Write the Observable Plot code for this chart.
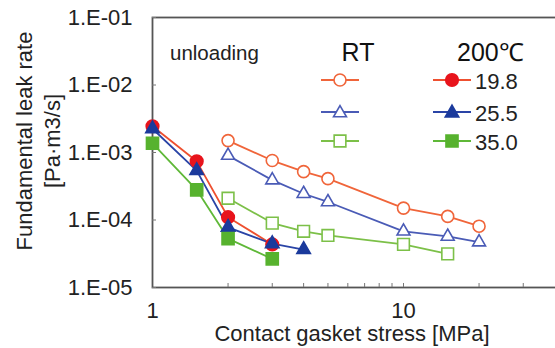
<!DOCTYPE html>
<html>
<head>
<meta charset="utf-8">
<script src="https://cdn.jsdelivr.net/npm/d3@7"></script>
<script src="https://cdn.jsdelivr.net/npm/@observablehq/plot@0.6"></script>
<style>
  html, body { margin: 0; padding: 0; background: #fff; overflow: hidden; }
  #chart { width: 555px; height: 348px; overflow: hidden; }
</style>
</head>
<body>
<div id="chart"></div>
<script>
// ---- data ----
const rtX = [2, 3, 4, 5, 10, 15, 20];
const rtCircle = [1.5e-3, 7.6e-4, 5.2e-4, 4.1e-4, 1.5e-4, 1.13e-4, 8.1e-5];
const rtTriangle = [9.0e-4, 3.9e-4, 2.45e-4, 1.85e-4, 6.8e-5, 5.7e-5, 4.7e-5];
const rtSquareX = [2, 3, 4, 5, 10, 15];
const rtSquare = [2.1e-4, 9.0e-5, 6.8e-5, 5.9e-5, 4.35e-5, 3.15e-5];

const hotX = [1, 1.5, 2, 3];
const hot198 = [2.45e-3, 7.4e-4, 1.1e-4, 4.35e-5];
const hot255X = [1, 1.5, 2, 3, 4];
const hot255 = [2.25e-3, 5.4e-4, 7.8e-5, 4.45e-5, 3.65e-5];
const hot350 = [1.37e-3, 2.8e-4, 5.3e-5, 2.65e-5];

const legendLabels = ["19.8", "25.5", "35.0"];
const yTicks = [1e-1, 1e-2, 1e-3, 1e-4, 1e-5];
const xMinorTicks = [2, 3, 4, 5, 6, 7, 8, 9, 10, 20, 30];
const xLabelTicks = [1, 10];

const xLabel = "Contact gasket stress [MPa]";
const yLabel1 = "Fundamental leak rate";
const yLabel2 = "[Pa\u00b7m3/s]";
const noteText = "unloading";
const headRT = "RT";
const headHot = "200\u2103";

// ---- series definitions ----
const series = [
  {x: rtX, y: rtCircle, symbol: "circle", r: 6, line: "#f0653a", stroke: "#f0653a", fill: "white"},
  {x: rtX, y: rtTriangle, symbol: "triangle", r: 4.8, line: "#4a5bb6", stroke: "#4a5bb6", fill: "white"},
  {x: rtSquareX, y: rtSquare, symbol: "square", r: 6.6, line: "#7cc048", stroke: "#7cc048", fill: "white"},
  {x: hotX, y: hot198, symbol: "circle", r: 6.3, line: "#ee5030", stroke: "#e8141c", fill: "#e8141c"},
  {x: hot255X, y: hot255, symbol: "triangle", r: 5, line: "#2a44a6", stroke: "#1b3a9c", fill: "#1b3a9c"},
  {x: hotX, y: hot350, symbol: "square", r: 6.8, line: "#5fb838", stroke: "#57b22e", fill: "#57b22e"}
];

const marks = [];
const W = 558, H = 348;
marks.push(Plot.frame({stroke: "#555", strokeWidth: 1.8}));
// inner ticks
marks.push(Plot.axisY({ticks: yTicks, tickSize: 4, dx: 4, text: null, label: null, stroke: "#777", strokeWidth: 1}));
marks.push(Plot.axisX({ticks: xMinorTicks, tickSize: 4, dy: -4, text: null, label: null, stroke: "#777", strokeWidth: 1}));
// labels
marks.push(Plot.axisY({ticks: yTicks, tickSize: 0, tickPadding: 20,
  tickFormat: d => "1.E-" + String(Math.round(-Math.log10(d))).padStart(2, "0"),
  fill: "#222", label: null}));
marks.push(Plot.axisX({ticks: xLabelTicks, tickSize: 0, tickPadding: 15, tickFormat: d => String(d), fill: "#222", label: null}));

for (const s of series) {
  const data = s.x.map((x, i) => ({x, y: s.y[i]}));
  marks.push(Plot.line(data, {x: "x", y: "y", stroke: s.line, strokeWidth: 1.8}));
}
for (const s of series) {
  const data = s.x.map((x, i) => ({x, y: s.y[i]}));
  marks.push(Plot.dot(data, {x: "x", y: "y", symbol: s.symbol, r: s.r, stroke: s.stroke, fill: s.fill, strokeWidth: 1.6}));
}

const chart = Plot.plot({
  width: W,
  height: H,
  marginLeft: 152,
  marginRight: 0,
  marginTop: 17,
  marginBottom: 61,
  style: {fontFamily: "'Liberation Sans', Arial, sans-serif", fontSize: "22px", background: "white", overflow: "visible", maxWidth: "none"},
  x: {type: "log", domain: [1, Math.pow(10, (W - 152) / 251)], label: null},
  y: {type: "log", domain: [1e-5, 1e-1], label: null},
  marks
});
document.getElementById("chart").appendChild(chart);

// ---- titles and legend ----
const svg = d3.select(chart);
const font = "'Liberation Sans', Arial, sans-serif";
svg.append("text").attr("x", 352).attr("y", 341).attr("text-anchor", "middle")
  .attr("font-family", font).attr("font-size", 22).attr("fill", "#222").text(xLabel);
svg.append("text").attr("transform", "translate(32,141) rotate(-90)").attr("text-anchor", "middle")
  .attr("font-family", font).attr("font-size", 22).attr("fill", "#222").text(yLabel1);
svg.append("text").attr("transform", "translate(60,141) rotate(-90)").attr("text-anchor", "middle")
  .attr("font-family", font).attr("font-size", 22).attr("fill", "#222").text(yLabel2);

svg.append("text").attr("x", 170).attr("y", 60).attr("text-anchor", "start").attr("font-family", font).attr("font-size", 20.5)
  .attr("fill", "#222").text(noteText);
svg.append("text").attr("x", 358).attr("y", 61).attr("text-anchor", "middle").attr("font-family", font)
  .attr("font-size", 25).attr("fill", "#111").text(headRT);
svg.append("text").attr("x", 457).attr("y", 61).attr("text-anchor", "start").attr("font-family", font)
  .attr("font-size", 25).attr("fill", "#111").text(headHot);

const symMap = {circle: d3.symbolCircle, triangle: d3.symbolTriangle, square: d3.symbolSquare};
const rowY = [80, 112, 141];
series.forEach((s, i) => {
  const col = i < 3 ? 0 : 1;
  const row = i % 3;
  const cx = col === 0 ? 340 : 452;
  const cy = rowY[row];
  const g = svg.append("g");
  g.append("line").attr("x1", cx - 19).attr("x2", cx + 19).attr("y1", cy).attr("y2", cy)
    .attr("stroke", s.line).attr("stroke-width", 1.8);
  g.append("path").attr("transform", `translate(${cx},${cy + (s.symbol === "triangle" ? 1 : 0)})`)
    .attr("d", d3.symbol(symMap[s.symbol], Math.PI * s.r * s.r)())
    .attr("fill", s.fill).attr("stroke", s.stroke).attr("stroke-width", 1.6);
  if (col === 1) {
    svg.append("text").attr("x", 475).attr("y", cy + 9).attr("text-anchor", "start").attr("font-family", font)
      .attr("font-size", 22).attr("fill", "#222").text(legendLabels[row]);
  }
});
</script>
</body>
</html>
